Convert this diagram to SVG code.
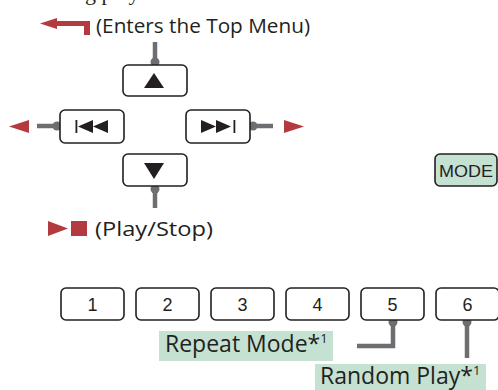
<svg xmlns="http://www.w3.org/2000/svg" width="498" height="390" viewBox="0 0 498 390">
<style>
.btn{fill:#fff;stroke:#231f20;stroke-width:1.6}
.mode{fill:#c5e1d1;stroke:#231f20;stroke-width:1.6}
.ico{fill:#231f20}
.red{fill:#b33b40}
.wire{fill:none;stroke:#6d6e71;stroke-width:4.5}
.dot{fill:#6d6e71}
.lbl{font-family:"Open Sans","Liberation Sans",sans-serif;fill:#231f20}
.num{font-family:"Liberation Sans",Arial,sans-serif;fill:#231f20;font-size:18px;text-anchor:middle}
.tag{fill:#c5e1d1}
</style>
<text x="85" y="0" font-family="Liberation Serif,serif" font-size="22" fill="#231f20">g play</text>

<g id="connectors">
  <line class="wire" x1="155" y1="42" x2="155" y2="62"/>
  <circle class="dot" cx="155" cy="62" r="4.5"/>
  <line class="wire" x1="37" y1="126" x2="57" y2="126"/>
  <circle class="dot" cx="57" cy="126" r="4.5"/>
  <line class="wire" x1="253" y1="126" x2="273" y2="126"/>
  <circle class="dot" cx="253" cy="126" r="4.5"/>
  <line class="wire" x1="155" y1="189" x2="155" y2="208"/>
  <circle class="dot" cx="155" cy="189" r="4.5"/>
  <polyline class="wire" points="393,322 393,346 357,346"/>
  <circle class="dot" cx="393" cy="322" r="4.5"/>
  <line class="wire" x1="467" y1="322" x2="467" y2="358"/>
  <circle class="dot" cx="467" cy="322" r="4.5"/>
</g>

<g id="top-menu">
  <polygon class="red" points="40,23.5 57,18 57,21 90,21 90,35 84,35 84,26 57,26 57,29"/>
  <text class="lbl" x="96" y="33" font-size="20" textLength="214" lengthAdjust="spacingAndGlyphs">(Enters the Top Menu)</text>
</g>

<g id="btn-up">
  <rect class="btn" x="123" y="65" width="64" height="31" rx="5"/>
  <polygon class="ico" points="154,73 164,88 144,88"/>
</g>

<g id="btn-prev">
  <rect class="btn" x="60" y="110" width="64" height="33" rx="5"/>
  <rect class="ico" x="75.5" y="120" width="1.8" height="13"/>
  <polygon class="ico" points="78,126.5 93,120 93,133"/>
  <polygon class="ico" points="93,126.5 108,120 108,133"/>
  <polygon class="red" points="9,126.5 29,120 29,133"/>
</g>

<g id="btn-next">
  <rect class="btn" x="186" y="110" width="64" height="33" rx="5"/>
  <polygon class="ico" points="201,120 216,126.5 201,133"/>
  <polygon class="ico" points="216,120 231,126.5 216,133"/>
  <rect class="ico" x="233.5" y="120" width="1.8" height="13"/>
  <polygon class="red" points="304,126.5 284,120 284,133"/>
</g>

<g id="btn-down">
  <rect class="btn" x="123" y="154" width="64" height="32" rx="5"/>
  <polygon class="ico" points="144,163 164,163 154,179"/>
</g>

<g id="play-stop">
  <polygon class="red" points="48,221 68,228.5 48,236"/>
  <rect class="red" x="71" y="221" width="16" height="15"/>
  <text class="lbl" x="95" y="236" font-size="20" textLength="118" lengthAdjust="spacingAndGlyphs">(Play/Stop)</text>
</g>

<g id="btn-mode">
  <rect class="mode" x="435" y="154" width="62" height="32" rx="5"/>
  <text x="439" y="177" font-family="Liberation Sans,Arial,sans-serif" font-size="16.5" fill="#231f20" textLength="54" lengthAdjust="spacingAndGlyphs">MODE</text>
</g>

<g id="btn-1"><rect class="btn" x="61" y="288" width="63" height="32" rx="5"/><text class="num" x="92.5" y="311">1</text></g>
<g id="btn-2"><rect class="btn" x="136" y="288" width="63" height="32" rx="5"/><text class="num" x="167.5" y="311">2</text></g>
<g id="btn-3"><rect class="btn" x="211" y="288" width="63" height="32" rx="5"/><text class="num" x="242.5" y="311">3</text></g>
<g id="btn-4"><rect class="btn" x="286" y="288" width="63" height="32" rx="5"/><text class="num" x="317.5" y="311">4</text></g>
<g id="btn-5"><rect class="btn" x="361" y="288" width="63" height="32" rx="5"/><text class="num" x="392.5" y="311">5</text></g>
<g id="btn-6"><rect class="btn" x="436" y="288" width="63" height="32" rx="5"/><text class="num" x="467.5" y="311">6</text></g>

<g id="repeat-mode">
  <rect class="tag" x="159" y="331" width="174" height="30"/>
  <text class="lbl" x="165" y="352" font-size="23">Repeat Mode*<tspan font-size="13" dy="-9">1</tspan></text>
</g>

<g id="random-play">
  <rect class="tag" x="315" y="364" width="171" height="26"/>
  <text class="lbl" x="320" y="384" font-size="23">Random Play*<tspan font-size="13" dy="-9">1</tspan></text>
</g>
</svg>
